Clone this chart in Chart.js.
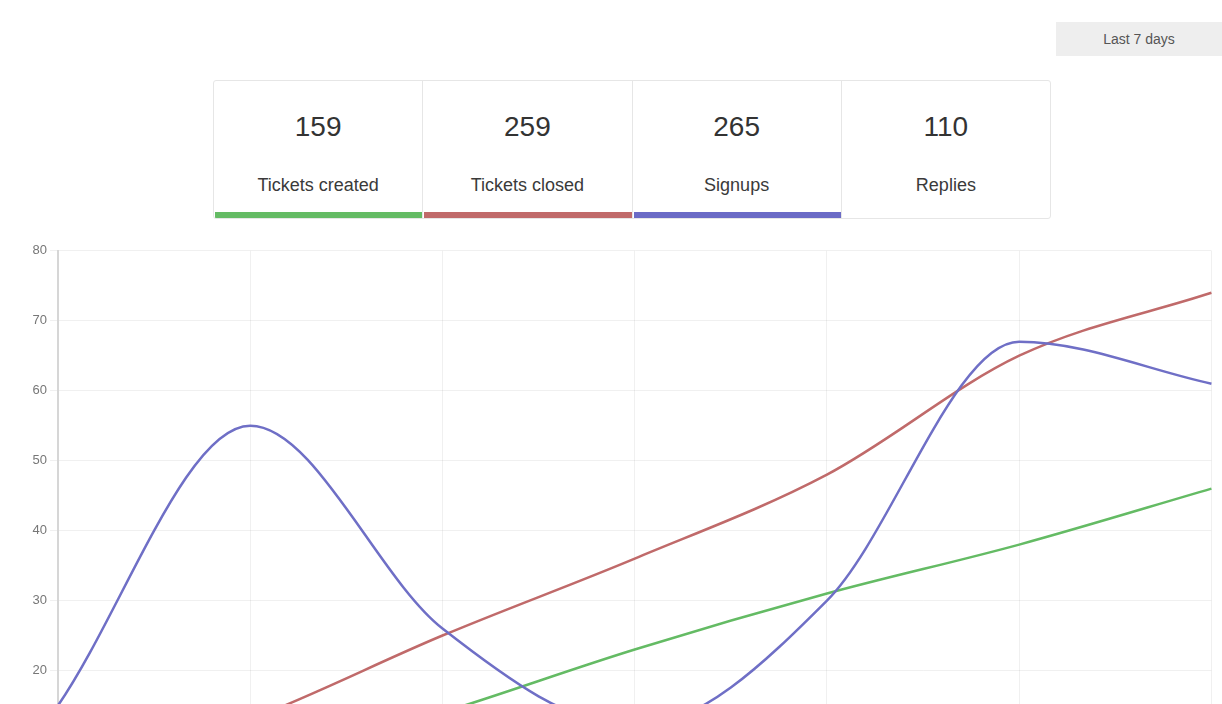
<!DOCTYPE html>
<html>
<head>
<meta charset="utf-8">
<script src="https://cdn.jsdelivr.net/npm/chart.js@4.4.1/dist/chart.umd.min.js"></script>
<style>
  html, body { overflow: hidden; }
  body { margin: 0; background: #fff; font-family: "Liberation Sans", Arial, sans-serif; color: #333; }
  .range-btn {
    position: absolute; left: 1056px; top: 22px; width: 166px; height: 34px;
    background: #eeeeee; color: #555; font-size: 14px; line-height: 34px; text-align: center;
  }
  .stats {
    position: absolute; left: 213px; top: 80px; width: 836px; height: 137px;
    border: 1px solid #e6e6e6; border-radius: 3px; display: flex; overflow: hidden;
  }
  .stat { flex: 1; position: relative; text-align: center; border-right: 1px solid #e6e6e6; }
  .stat:last-child { border-right: none; }
  .stat .num { font-size: 28px; margin-top: 30px; height: 32px; line-height: 32px; color: #333; }
  .stat .lbl { font-size: 18px; margin-top: 32px; line-height: 21px; color: #3a3a3a; }
  .stat .bar { position: absolute; left: 1px; right: 0; bottom: 0; height: 6px; }
  .chart-wrap { position: absolute; left: 15px; top: 240px; width: 1211px; height: 600px; }
</style>
</head>
<body>
<div class="range-btn">Last 7 days</div>
<div class="stats" id="stats"></div>
<div class="chart-wrap"><canvas id="lineChart"></canvas></div>
<script>
// summary boxes
const statNames = ["Tickets created", "Tickets closed", "Signups", "Replies"];
const statTotals = [159, 259, 265, 110];
const statColors = ["#64bb64", "#c06a6a", "#6b6bc6", null];

// chart series (one value per day)
const days = ["Mon", "Tue", "Wed", "Thu", "Fri", "Sat", "Sun"];
const ticketsCreated = [3, 6, 14, 23, 31, 38, 46];
const ticketsClosed = [4, 13, 25, 36, 48, 65, 74];
const signups = [15, 55, 26, 12, 30, 67, 61];
const yTicks = [0, 10, 20, 30, 40, 50, 60, 70, 80];

const statsEl = document.getElementById('stats');
statNames.forEach((name, i) => {
  const box = document.createElement('div');
  box.className = 'stat';
  box.innerHTML = `<div class="num">${statTotals[i]}</div><div class="lbl">${name}</div>`;
  if (statColors[i]) {
    const bar = document.createElement('div');
    bar.className = 'bar';
    bar.style.background = statColors[i];
    box.appendChild(bar);
  }
  statsEl.appendChild(box);
});

function lineSet(label, data, color) {
  return {
    label: label,
    data: data,
    borderColor: color,
    backgroundColor: color,
    borderWidth: 2.5,
    pointRadius: 0,
    cubicInterpolationMode: 'monotone',
    fill: false
  };
}

const ctx = document.getElementById('lineChart').getContext('2d');
new Chart(ctx, {
  type: 'line',
  data: {
    labels: days,
    datasets: [
      lineSet('Signups', signups, '#6f6fc6'),
      lineSet('Tickets closed', ticketsClosed, '#c06a6a'),
      lineSet('Tickets created', ticketsCreated, '#64bb64')
    ]
  },
  options: {
    responsive: true,
    maintainAspectRatio: false,
    animation: false,
    layout: { padding: { top: 10, right: 0, left: 0, bottom: 0 } },
    plugins: { legend: { display: false }, tooltip: { enabled: false } },
    scales: {
      x: {
        grid: { color: 'rgba(0,0,0,0.06)' },
        border: { color: 'rgba(0,0,0,0.06)' },
        ticks: { color: '#777', maxRotation: 0, font: { size: 13, family: 'Liberation Sans' } }
      },
      y: {
        min: yTicks[0],
        max: yTicks[yTicks.length - 1],
        afterBuildTicks: s => { s.ticks = yTicks.map(v => ({ value: v })); },
        afterFit: s => { s.width = 43; },
        grid: { color: 'rgba(0,0,0,0.06)' },
        border: { color: '#d6d6d6', width: 2 },
        ticks: { color: '#777', font: { size: 13, family: 'Liberation Sans' } }
      }
    }
  }
});
</script>
</body>
</html>
